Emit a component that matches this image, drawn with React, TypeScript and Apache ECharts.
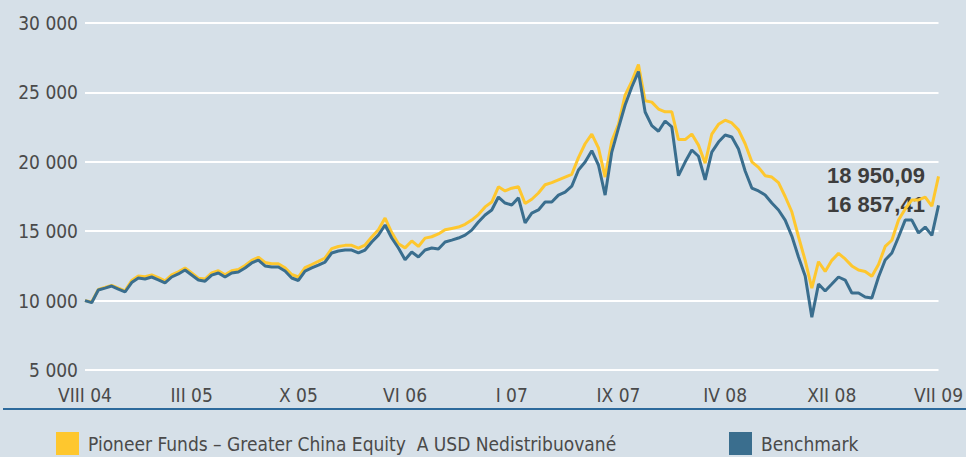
import React, { useEffect, useRef } from "react";
import * as echarts from "echarts";

const tickLabels = ["VIII 04", "III 05", "X 05", "VI 06", "I 07", "IX 07", "IV 08", "XII 08", "VII 09"];

const fundName = "Pioneer Funds – Greater China Equity  A USD Nedistribuované";
const benchName = "Benchmark";

const fundValues = [
  10000, 9900, 10800, 10950, 11100, 10900, 10700, 11450, 11780, 11720,
  11850, 11650, 11420, 11850, 12080, 12350, 11990, 11620, 11550, 11990,
  12150, 11860, 12150, 12240, 12530, 12900, 13120, 12750, 12650, 12650,
  12370, 11880, 11700, 12380, 12600, 12830, 13070, 13740, 13900, 13980,
  13980, 13780, 14000, 14580, 15100, 15950, 14900, 14100, 13800, 14300,
  13900, 14500, 14600, 14800, 15100, 15200, 15300, 15500, 15800, 16200,
  16750, 17100, 18200, 17900, 18100, 18200, 17000, 17300, 17750, 18350,
  18500, 18700, 18900, 19100, 20300, 21300, 22000, 21000, 18900, 21500,
  22700, 24800, 25800, 27000, 24400, 24300, 23800, 23600, 23600, 21600,
  21600, 22000, 21200, 19900, 22000, 22700, 23000, 22800, 22300, 21300,
  20000, 19600, 19000, 18900, 18500, 17500, 16400, 14600, 12900, 10900,
  12800, 12100, 12900, 13400, 13000, 12500, 12200, 12100, 11750, 12600,
  13900, 14350, 15800, 16600, 17250, 17250, 17450, 16800, 18950.09,
];

const benchValues = [
  10000, 9850, 10760, 10900, 11050, 10830, 10620, 11300, 11630, 11560,
  11700, 11500, 11270, 11700, 11920, 12200, 11840, 11480, 11400, 11840,
  11990, 11700, 11990, 12060, 12350, 12710, 12920, 12500, 12420, 12420,
  12130, 11630, 11450, 12130, 12350, 12560, 12780, 13430, 13570, 13645,
  13645, 13430, 13645, 14220, 14720, 15450, 14510, 13790, 12950, 13500,
  13140, 13650, 13790, 13720, 14220, 14360, 14510, 14720, 15080, 15660,
  16170, 16530, 17460, 17030, 16890, 17400, 15600, 16300, 16530, 17100,
  17100, 17600, 17820, 18250, 19410, 19990, 20800, 19770, 17600, 20700,
  22430, 24090, 25390, 26500, 23590, 22600, 22200, 22940, 22510, 19000,
  19980, 20850, 20400, 18700, 20700, 21420, 21930, 21790, 20920, 19340,
  18110, 17900, 17610, 17030, 16530, 15800, 14650, 13140, 11770, 8800,
  11190, 10690, 11190, 11700, 11480, 10550, 10550, 10260, 10190, 11700,
  12920, 13430, 14580, 15800, 15800, 14870, 15300, 14700, 16857.41,
];

const categories = fundValues.map((_, i) => (i % 16 === 0 ? tickLabels[i / 16] : "p" + i));

const fmtThousands = (v: number) => String(v).replace(/\B(?=(\d{3})+(?!\d))/g, " ");
const fmtLast = (v: number) => {
  const [int, dec] = v.toFixed(2).split(".");
  return fmtThousands(Number(int)) + "," + dec;
};

const FONT = "'DejaVu Sans Condensed', 'Liberation Sans Narrow', sans-serif";
const TEXT = "#4a4a4a";
const YELLOW = "#fec72e";
const BLUE = "#3a6e8e";

export default function App() {
  const ref = useRef<HTMLDivElement>(null);
  useEffect(() => {
    if (!ref.current) return;
    const chart = echarts.init(ref.current, undefined, { renderer: "svg" });
    chart.setOption({
      animation: false,
      backgroundColor: "#d6e0e8",
      grid: { left: 85, right: 22, top: 23, bottom: 87, containLabel: false },
      legend: [
        {
          data: [fundName],
          left: 56,
          top: 432,
          icon: "rect",
          itemWidth: 23,
          itemHeight: 23,
          itemGap: 0,
          textStyle: { color: TEXT, fontSize: 19, fontFamily: FONT, padding: [0, 0, 0, 4] },
          padding: 0,
        },
        {
          data: [benchName],
          left: 729,
          top: 432,
          icon: "rect",
          itemWidth: 23,
          itemHeight: 23,
          textStyle: { color: TEXT, fontSize: 19, fontFamily: FONT, padding: [0, 0, 0, 4] },
          padding: 0,
        },
      ],
      xAxis: {
        type: "category",
        data: categories,
        boundaryGap: false,
        axisLine: { show: false },
        axisTick: { show: false },
        splitLine: { show: false },
        axisLabel: {
          interval: 15,
          color: TEXT,
          fontSize: 19,
          fontFamily: FONT,
          margin: 15,
          showMaxLabel: true,
        },
      },
      yAxis: {
        type: "value",
        min: 5000,
        max: 30000,
        interval: 5000,
        axisLine: { show: false },
        axisTick: { show: false },
        splitLine: { lineStyle: { color: "#ffffff", width: 2 } },
        axisLabel: {
          color: TEXT,
          fontSize: 19,
          fontFamily: FONT,
          margin: 7,
          formatter: (v: number) => fmtThousands(v),
        },
      },
      series: [
        {
          name: fundName,
          type: "line",
          data: fundValues,
          symbol: "none",
          lineStyle: { color: YELLOW, width: 3 },
          itemStyle: { color: YELLOW },
        },
        {
          name: benchName,
          type: "line",
          data: benchValues,
          symbol: "none",
          lineStyle: { color: BLUE, width: 3 },
          itemStyle: { color: BLUE },
        },
      ],
      graphic: [
        {
          type: "line",
          shape: { x1: 3, y1: 409, x2: 966, y2: 409 },
          style: { stroke: "#2d6a9c", lineWidth: 2 },
        },
        {
          type: "text",
          x: 827,
          y: 175,
          style: {
            text: fmtLast(fundValues[fundValues.length - 1]),
            fill: "#3d3d3d",
            font: "bold 22px 'Liberation Sans', Arial, sans-serif",
            verticalAlign: "middle",
          },
        },
        {
          type: "text",
          x: 827,
          y: 204,
          style: {
            text: fmtLast(benchValues[benchValues.length - 1]),
            fill: "#3d3d3d",
            font: "bold 22px 'Liberation Sans', Arial, sans-serif",
            verticalAlign: "middle",
          },
        },
      ],
    });
    return () => chart.dispose();
  }, []);
  return (
    <div
      ref={ref}
      style={{ position: "fixed", left: 0, top: 0, width: 966, height: 457 }}
    />
  );
}
